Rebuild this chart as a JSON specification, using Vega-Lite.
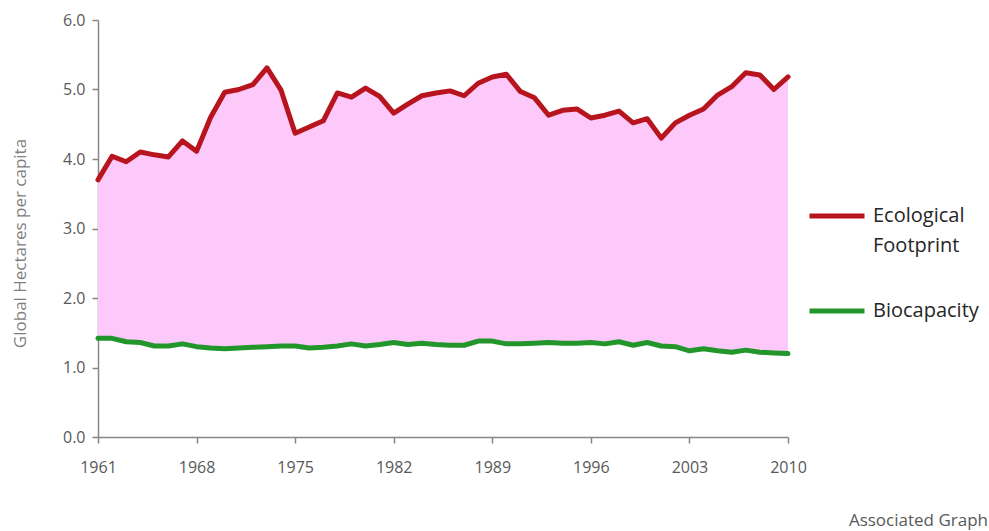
{
  "$schema": "https://vega.github.io/schema/vega-lite/v6.json",
  "width": 690,
  "height": 417,
  "autosize": {"type": "none"},
  "padding": {"left": 98, "top": 20, "right": 201, "bottom": 94},
  "background": "white",
  "config": {"view": {"stroke": null}, "font": "Open Sans", "style": {"guide-label": {"lineHeight": 30}}},
  "title": {"text": "Associated Graph", "orient": "bottom", "anchor": "end", "frame": "bounds", "fontSize": 17, "fontWeight": "normal", "color": "#595959", "offset": 38, "dx": 9},
  "data": {"values": [
    {"year": 1961, "footprint": 3.70, "biocapacity": 1.42},
    {"year": 1962, "footprint": 4.04, "biocapacity": 1.42},
    {"year": 1963, "footprint": 3.96, "biocapacity": 1.37},
    {"year": 1964, "footprint": 4.10, "biocapacity": 1.36},
    {"year": 1965, "footprint": 4.06, "biocapacity": 1.31},
    {"year": 1966, "footprint": 4.03, "biocapacity": 1.31},
    {"year": 1967, "footprint": 4.26, "biocapacity": 1.34},
    {"year": 1968, "footprint": 4.11, "biocapacity": 1.30},
    {"year": 1969, "footprint": 4.60, "biocapacity": 1.28},
    {"year": 1970, "footprint": 4.96, "biocapacity": 1.27},
    {"year": 1971, "footprint": 5.00, "biocapacity": 1.28},
    {"year": 1972, "footprint": 5.07, "biocapacity": 1.29},
    {"year": 1973, "footprint": 5.31, "biocapacity": 1.30},
    {"year": 1974, "footprint": 4.99, "biocapacity": 1.31},
    {"year": 1975, "footprint": 4.37, "biocapacity": 1.31},
    {"year": 1976, "footprint": 4.46, "biocapacity": 1.28},
    {"year": 1977, "footprint": 4.55, "biocapacity": 1.29},
    {"year": 1978, "footprint": 4.95, "biocapacity": 1.31},
    {"year": 1979, "footprint": 4.89, "biocapacity": 1.34},
    {"year": 1980, "footprint": 5.02, "biocapacity": 1.31},
    {"year": 1981, "footprint": 4.90, "biocapacity": 1.33},
    {"year": 1982, "footprint": 4.66, "biocapacity": 1.36},
    {"year": 1983, "footprint": 4.79, "biocapacity": 1.33},
    {"year": 1984, "footprint": 4.91, "biocapacity": 1.35},
    {"year": 1985, "footprint": 4.95, "biocapacity": 1.33},
    {"year": 1986, "footprint": 4.98, "biocapacity": 1.32},
    {"year": 1987, "footprint": 4.91, "biocapacity": 1.32},
    {"year": 1988, "footprint": 5.09, "biocapacity": 1.38},
    {"year": 1989, "footprint": 5.18, "biocapacity": 1.38},
    {"year": 1990, "footprint": 5.22, "biocapacity": 1.34},
    {"year": 1991, "footprint": 4.97, "biocapacity": 1.34},
    {"year": 1992, "footprint": 4.88, "biocapacity": 1.35},
    {"year": 1993, "footprint": 4.63, "biocapacity": 1.36},
    {"year": 1994, "footprint": 4.70, "biocapacity": 1.35},
    {"year": 1995, "footprint": 4.72, "biocapacity": 1.35},
    {"year": 1996, "footprint": 4.59, "biocapacity": 1.36},
    {"year": 1997, "footprint": 4.63, "biocapacity": 1.34},
    {"year": 1998, "footprint": 4.69, "biocapacity": 1.37},
    {"year": 1999, "footprint": 4.52, "biocapacity": 1.32},
    {"year": 2000, "footprint": 4.58, "biocapacity": 1.36},
    {"year": 2001, "footprint": 4.30, "biocapacity": 1.31},
    {"year": 2002, "footprint": 4.52, "biocapacity": 1.30},
    {"year": 2003, "footprint": 4.63, "biocapacity": 1.24},
    {"year": 2004, "footprint": 4.72, "biocapacity": 1.27},
    {"year": 2005, "footprint": 4.92, "biocapacity": 1.24},
    {"year": 2006, "footprint": 5.04, "biocapacity": 1.22},
    {"year": 2007, "footprint": 5.24, "biocapacity": 1.25},
    {"year": 2008, "footprint": 5.21, "biocapacity": 1.22},
    {"year": 2009, "footprint": 5.00, "biocapacity": 1.21},
    {"year": 2010, "footprint": 5.18, "biocapacity": 1.20}
  ]},
  "encoding": {
    "x": {"field": "year", "type": "quantitative",
      "scale": {"domain": [1961, 2010], "nice": false, "zero": false},
      "axis": {"values": [1961, 1968, 1975, 1982, 1989, 1996, 2003, 2010], "format": "d", "title": null, "grid": false,
        "labelFlush": false,
        "domainColor": "#868686", "domainWidth": 1.5, "tickColor": "#868686", "tickSize": 6, "tickWidth": 1.5,
        "labelColor": "#595959", "labelFontSize": 16, "labelPadding": 16, "labelFont": "Open Sans"}}
  },
  "layer": [
    {
      "mark": {"type": "area", "color": "#FDC8FA"},
      "encoding": {
        "y": {"field": "footprint", "type": "quantitative",
          "scale": {"domain": [0, 6], "nice": false},
          "axis": {"values": [0, 1, 2, 3, 4, 5, 6], "format": ".1f", "title": "Global Hectares per capita", "grid": false,
            "labelFlush": false,
            "domainColor": "#868686", "domainWidth": 1.5, "tickColor": "#868686", "tickSize": 6, "tickWidth": 1.5,
            "labelColor": "#595959", "labelFontSize": 16, "labelPadding": 7, "labelFont": "Open Sans",
            "titleColor": "#7f7f7f", "titleFontSize": 17, "titleFontWeight": "normal", "titleFont": "Open Sans", "titlePadding": 33, "titleY": 223}},
        "y2": {"field": "biocapacity"}
      }
    },
    {
      "transform": [{"fold": ["footprint", "biocapacity"], "as": ["key", "value"]}],
      "mark": {"type": "line", "strokeWidth": 5, "strokeJoin": "round", "strokeCap": "round"},
      "encoding": {
        "y": {"field": "value", "type": "quantitative"},
        "color": {"field": "key", "type": "nominal",
          "scale": {"domain": ["footprint", "biocapacity"], "range": ["#B8141E", "#22962A"]},
          "legend": {"title": null, "orient": "none", "legendX": 709, "legendY": 166, "padding": 0,
            "symbolType": "stroke", "symbolStrokeWidth": 5, "symbolSize": 3025, "labelOffset": 6,
            "labelFontSize": 20, "labelColor": "#262626", "labelFont": "Open Sans", "labelBaseline": "middle",
            "rowPadding": 25, "labelLimit": 250,
            "labelExpr": "datum.value == 'footprint' ? ['Ecological', 'Footprint'] : 'Biocapacity'"}}
      }
    }
  ]
}
